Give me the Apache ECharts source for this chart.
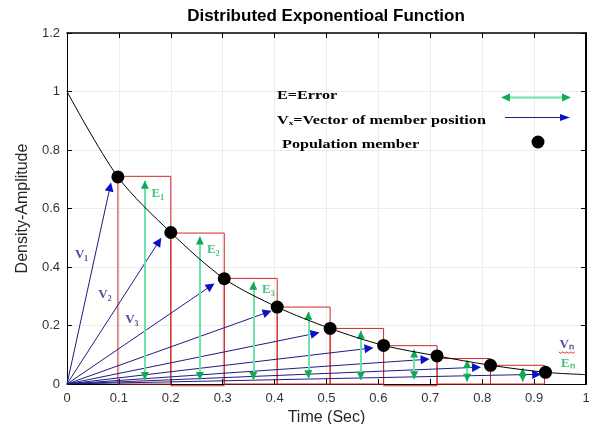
<!DOCTYPE html>
<html><head><meta charset="utf-8">
<script src="https://cdn.jsdelivr.net/npm/echarts@6/dist/echarts.min.js"></script>
<style>html,body{margin:0;padding:0;background:#fff}#c{width:590px;height:424px}</style>
</head><body><div id="c"></div>
<script>
// ---- data ----
const xMin = 0, xMax = 1, xStep = 0.1;
const yMin = 0, yMax = 1.2, yStep = 0.2;

// exponential density curve
const curveX = [0, 0.098, 0.2, 0.303, 0.405, 0.507, 0.61, 0.713, 0.816, 0.922, 1];
const curveY = [1, 0.708, 0.518, 0.36, 0.263, 0.19, 0.132, 0.096, 0.064, 0.04, 0.032];

// population members (black dots)
const memberX = [0.098, 0.2, 0.303, 0.405, 0.507, 0.61, 0.713, 0.816, 0.922];
const memberY = [0.708, 0.518, 0.36, 0.263, 0.19, 0.132, 0.096, 0.064, 0.04];

// red step boxes
const boxLeft  = [0.098, 0.2, 0.303, 0.405, 0.507, 0.61, 0.713, 0.816];
const boxRight = [0.2, 0.303, 0.405, 0.507, 0.61, 0.713, 0.816, 0.92];
const boxTop   = [0.71, 0.516, 0.361, 0.263, 0.19, 0.131, 0.087, 0.064];
const boxBase  = [0, -0.006, 0, 0, 0, -0.006, 0, 0];

// position vectors (blue arrows from origin)
const vecTipX = [0.083, 0.177, 0.277, 0.386, 0.478, 0.582, 0.69, 0.789, 0.905];
const vecTipY = [0.674, 0.487, 0.335, 0.245, 0.173, 0.122, 0.084, 0.057, 0.033];

// error arrows (green, double headed)
const errX      = [0.15, 0.256, 0.359, 0.465, 0.566, 0.669, 0.771, 0.878];
const errTop    = [0.695, 0.504, 0.35, 0.247, 0.182, 0.118, 0.082, 0.055];
const errBottom = [0.014, 0.014, 0.014, 0.02, 0.014, 0.016, 0.008, 0.008];

// annotation labels
const vLabelText = ['V\u2081', 'V\u2082', 'V\u2083', 'V\u2099'];
const vLabelX = [0.028, 0.073, 0.125, 0.963];
const vLabelY = [0.441, 0.304, 0.219, 0.133];
const eLabelText = ['E\u2081', 'E\u2082', 'E\u2083', 'E\u2099'];
const eLabelX = [0.175, 0.282, 0.388, 0.965];
const eLabelY = [0.652, 0.458, 0.321, 0.071];

const titleText = 'Distributed Exponentioal Function';
const xName = 'Time (Sec)';
const yName = 'Density-Amplitude';
const legendText = ['E=Error', 'V\u2093=Vector of member position', 'Population member'];

// ---- chart ----
const chart = echarts.init(document.getElementById('c'), null, {renderer: 'canvas'});
const serif = 'Liberation Serif';
const sans = 'Liberation Sans';
const navy = '#1d1d80', headBlue = '#0a12c8';
const mint = '#6fe2aa', green = '#10a957';

const axisCommon = {
  type: 'value',
  axisLine: {show: true, onZero: false, lineStyle: {color: '#000', width: 1}},
  axisTick: {show: true, inside: true, length: 5, lineStyle: {color: '#000'}},
};

const option = {
  animation: false,
  backgroundColor: '#fff',
  title: {
    text: titleText, left: 326, top: 8, textAlign: 'center', padding: 0,
    textStyle: {fontFamily: sans, fontSize: 17, fontWeight: 'bold', color: '#000'}
  },
  grid: {left: 67, right: 4, top: 33, bottom: 40, containLabel: false, outerBoundsMode: 'none'},
  xAxis: [
    Object.assign({}, axisCommon, {
      min: xMin, max: xMax, interval: xStep, position: 'bottom',
      name: xName, nameLocation: 'middle', nameGap: 26,
      nameTextStyle: {fontFamily: sans, fontSize: 16, color: '#262626'},
      axisLabel: {fontFamily: sans, fontSize: 13, color: '#333', margin: 8},
      splitLine: {show: true, lineStyle: {color: '#ececec', width: 1}}
    }),
    Object.assign({}, axisCommon, {
      min: xMin, max: xMax, interval: xStep, position: 'top',
      axisLabel: {show: false}, splitLine: {show: false},
      axisLine: {show: true, onZero: false, lineStyle: {color: '#000', width: 1.5}}
    })
  ],
  yAxis: [
    Object.assign({}, axisCommon, {
      min: yMin, max: yMax, interval: yStep, position: 'left',
      name: yName, nameLocation: 'middle', nameGap: 35,
      nameTextStyle: {fontFamily: sans, fontSize: 16, color: '#262626'},
      axisLabel: {fontFamily: sans, fontSize: 13, color: '#333', margin: 7},
      splitLine: {show: true, lineStyle: {color: '#ececec', width: 1}}
    }),
    Object.assign({}, axisCommon, {
      min: yMin, max: yMax, interval: yStep, position: 'right',
      axisLabel: {show: false}, splitLine: {show: false},
      axisLine: {show: true, onZero: false, lineStyle: {color: '#000', width: 2}}
    })
  ],
  series: [
    {
      name: 'boxes', type: 'lines', coordinateSystem: 'cartesian2d', polyline: true,
      silent: true, clip: false, z: 2,
      lineStyle: {color: '#d42626', width: 1, opacity: 1},
      data: boxLeft.map((l, i) => ({coords: [[l, boxBase[i]], [l, boxTop[i]], [boxRight[i], boxTop[i]], [boxRight[i], boxBase[i]], [l, boxBase[i]]]}))
    },
    {
      name: 'vectors', type: 'lines', coordinateSystem: 'cartesian2d', silent: true, z: 3,
      symbol: ['none', 'none'],
      lineStyle: {color: navy, width: 1, opacity: 1},
      data: vecTipX.map((x, i) => ({coords: [[0, 0], [x, vecTipY[i]]]}))
    },
    {
      name: 'vectorHeads', type: 'lines', coordinateSystem: 'cartesian2d', silent: true, z: 4,
      symbol: ['none', 'triangle'], symbolSize: [7, 9],
      lineStyle: {color: headBlue, width: 0, opacity: 1},
      data: vecTipX.map((x, i) => ({coords: [[0, 0], [x, vecTipY[i]]]}))
    },
    {
      name: 'errors', type: 'lines', coordinateSystem: 'cartesian2d', silent: true, z: 3,
      lineStyle: {color: mint, width: 2, opacity: 1},
      data: errX.map((x, i) => ({coords: [[x, errBottom[i]], [x, errTop[i]]]}))
    },
    {
      name: 'errorTopHeads', type: 'scatter', silent: true, z: 4,
      symbol: 'triangle', symbolSize: [8, 8], symbolOffset: [0, 4],
      itemStyle: {color: green, opacity: 1},
      data: errX.map((x, i) => [x, errTop[i]])
    },
    {
      name: 'errorBottomHeads', type: 'scatter', silent: true, z: 4,
      symbol: 'triangle', symbolSize: [8, 8], symbolRotate: 180, symbolOffset: [0, -4],
      itemStyle: {color: green, opacity: 1},
      data: errX.map((x, i) => [x, errBottom[i]])
    },
    {
      name: 'curve', type: 'line', smooth: 0.3, showSymbol: false, silent: true, z: 5,
      lineStyle: {color: '#000', width: 1},
      data: curveX.map((x, i) => [x, curveY[i]])
    },
    {
      name: 'members', type: 'scatter', symbol: 'circle', symbolSize: 13, silent: true, z: 6,
      itemStyle: {color: '#000', opacity: 1},
      data: memberX.map((x, i) => [x, memberY[i]])
    },
    {
      name: 'vLabels', type: 'scatter', symbolSize: 0, silent: true, z: 7,
      label: {show: true, position: 'inside', formatter: p => p.name,
        fontFamily: serif, fontWeight: 'bold', fontSize: 13, color: '#23237a'},
      data: vLabelX.map((x, i) => ({name: vLabelText[i], value: [x, vLabelY[i]]}))
    },
    {
      name: 'eLabels', type: 'scatter', symbolSize: 0, silent: true, z: 7,
      label: {show: true, position: 'inside', formatter: p => p.name,
        fontFamily: serif, fontWeight: 'bold', fontSize: 13, color: '#19b05e'},
      data: eLabelX.map((x, i) => ({name: eLabelText[i], value: [x, eLabelY[i]]}))
    }
  ]
};
chart.setOption(option);

// legend box drawn as graphics (text stretched like the pasted legend)
const lgFont = 'bold 12px "Liberation Serif"';
const graphics = [
  {type: 'text', x: 277, y: 96, scaleX: 1.35, z: 10,
    style: {text: legendText[0], font: lgFont, fill: '#000', textVerticalAlign: 'middle'}},
  {type: 'text', x: 277, y: 121, scaleX: 1.35, z: 10,
    style: {text: legendText[1], font: lgFont, fill: '#000', textVerticalAlign: 'middle'}},
  {type: 'text', x: 282, y: 145, scaleX: 1.35, z: 10,
    style: {text: legendText[2], font: lgFont, fill: '#000', textVerticalAlign: 'middle'}},
  // green double arrow
  {type: 'line', z: 10, shape: {x1: 506, y1: 97.5, x2: 566, y2: 97.5}, style: {stroke: mint, lineWidth: 2}},
  {type: 'polygon', z: 11, shape: {points: [[501, 97.5], [510, 93.5], [510, 101.5]]}, style: {fill: green}},
  {type: 'polygon', z: 11, shape: {points: [[571, 97.5], [562, 93.5], [562, 101.5]]}, style: {fill: green}},
  // blue arrow
  {type: 'line', z: 10, shape: {x1: 505, y1: 117.5, x2: 562, y2: 117.5}, style: {stroke: navy, lineWidth: 1}},
  {type: 'polygon', z: 11, shape: {points: [[570, 117.5], [560, 114], [560, 121]]}, style: {fill: headBlue}},
  // black dot
  {type: 'circle', z: 10, shape: {cx: 538, cy: 142, r: 6.5}, style: {fill: '#000'}}
];
// red spell-check squiggle under the V_n label
const vn = chart.convertToPixel({xAxisIndex: 0, yAxisIndex: 0}, [vLabelX[3], vLabelY[3]]);
const sq = [];
for (let k = 0; k <= 8; k++) sq.push([vn[0] - 8 + k * 2, vn[1] + 7 + (k % 2 ? 1.2 : -0.2)]);
graphics.push({type: 'polyline', z: 12, shape: {points: sq}, style: {stroke: '#e03030', lineWidth: 1, fill: null}});
chart.setOption({graphic: graphics});
</script>
</body></html>
